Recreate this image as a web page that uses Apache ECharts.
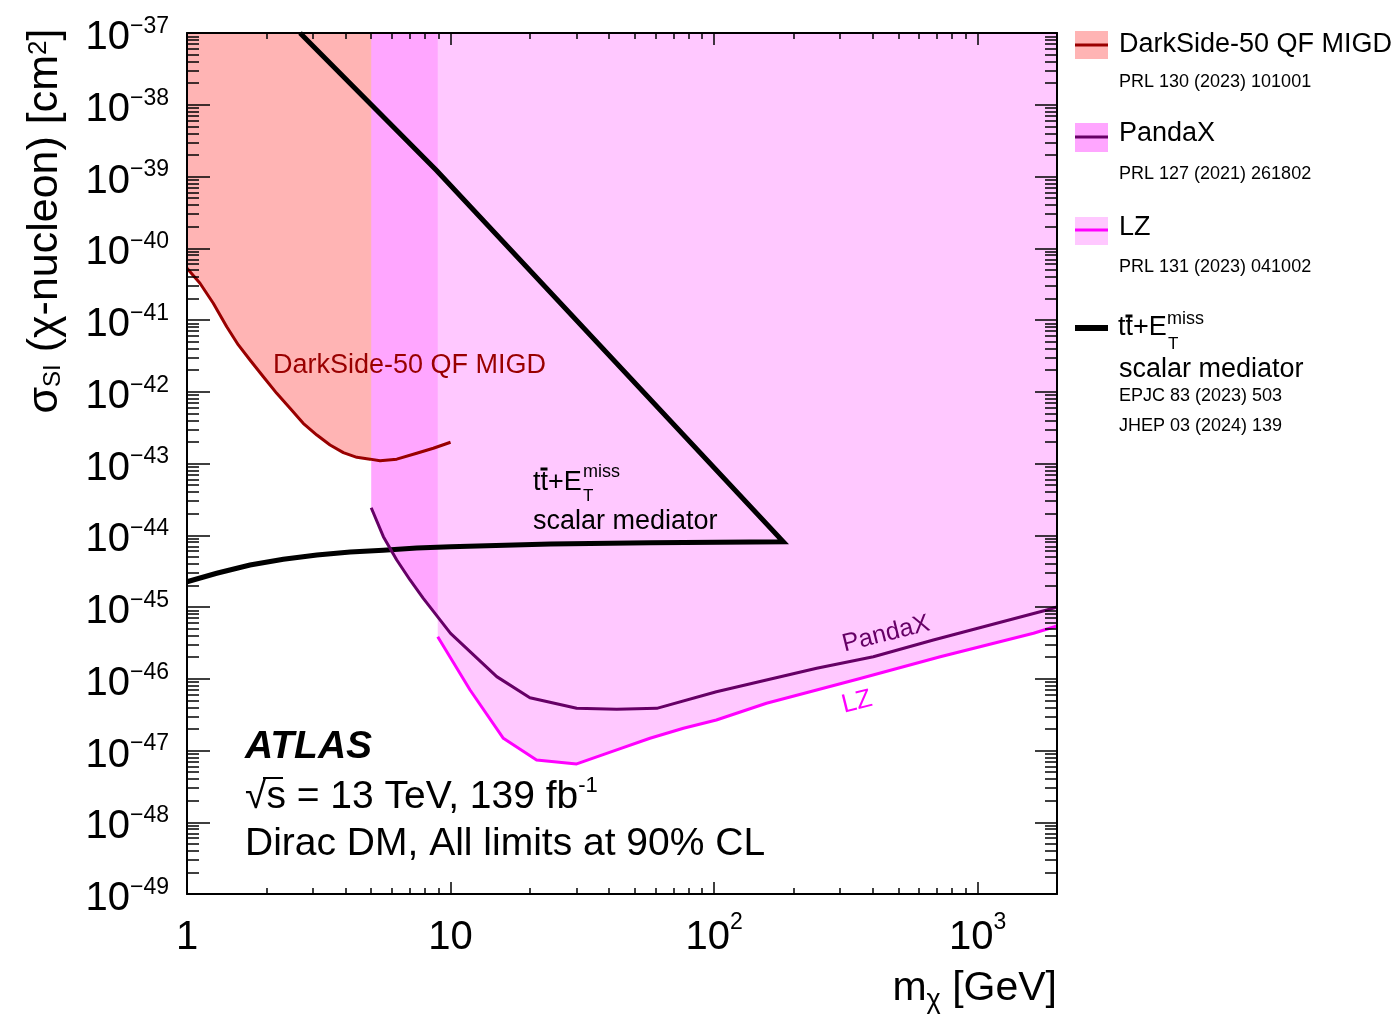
<!DOCTYPE html>
<html>
<head>
<meta charset="utf-8">
<script src="https://cdn.jsdelivr.net/npm/echarts@6/dist/echarts.min.js"></script>
<style>
html,body{margin:0;padding:0;background:#fff;}
#chart{width:1394px;height:1017px;}
</style>
</head>
<body>
<div id="chart"></div>
<script>
// ---------------- data ----------------
const darksideMass = [1.0, 1.12, 1.258, 1.415, 1.566, 1.734, 1.948, 2.19, 2.46, 2.76, 3.11, 3.49, 3.92, 4.41, 4.95, 5.40, 6.25, 7.44, 8.60, 10.0];
const darksideXsec = [5.26e-41, 3.25e-41, 1.71e-41, 8.07e-42, 4.49e-42, 2.77e-42, 1.62e-42, 9.5e-43, 5.87e-43, 3.63e-43, 2.49e-43, 1.81e-43, 1.42e-43, 1.22e-43, 1.15e-43, 1.09e-43, 1.15e-43, 1.39e-43, 1.63e-43, 1.98e-43];

const pandaxMass = [5.0, 5.56, 6.25, 7.02, 7.88, 10.0, 14.97, 20.0, 30.1, 42.7, 60.6, 102, 158, 245, 402, 679, 1052, 1830, 2000];
const pandaxXsec = [2.42e-44, 9.55e-45, 4.52e-45, 2.38e-45, 1.32e-45, 4.3e-46, 1.07e-46, 5.45e-47, 3.87e-47, 3.75e-47, 3.87e-47, 6.6e-47, 9.6e-47, 1.4e-46, 2.03e-46, 3.47e-46, 5.3e-46, 9.1e-46, 1.0e-45];

const lzMass = [8.94, 11.86, 15.86, 21.2, 30.1, 42.7, 57.1, 76.5, 102, 158, 245, 358, 721, 1629, 2000];
const lzXsec = [3.86e-46, 6.97e-47, 1.48e-47, 7.4e-48, 6.5e-48, 1.02e-47, 1.48e-47, 2.04e-47, 2.66e-47, 4.55e-47, 6.97e-47, 1.01e-46, 2.03e-46, 4.3e-46, 5.43e-46];

const ttbarMass = [1.0, 1.296, 1.734, 2.32, 3.11, 4.16, 5.56, 7.44, 10.0, 23.9, 57.2, 183, 8.87, 2.685];
const ttbarXsec = [2.25e-45, 2.95e-45, 3.85e-45, 4.62e-45, 5.3e-45, 5.85e-45, 6.2e-45, 6.64e-45, 6.9e-45, 7.55e-45, 7.87e-45, 8.1e-45, 1.2e-39, 1.0e-37];

const xRange = [1, 2000];
const yRange = [1e-49, 1e-37];
const xTickValues = [1, 10, 100, 1000];
const xTickLabels = ['1', '10', '10^2', '10^3'];
const yTickExponents = [-49, -48, -47, -46, -45, -44, -43, -42, -41, -40, -39, -38, -37];

// ---------------- helpers ----------------
const FONT = "'Liberation Sans', Arial, Helvetica, sans-serif";
const pairs = (xs, ys) => xs.map((x, i) => [x, ys[i]]);
const lx0 = Math.log10(xRange[0]), lx1 = Math.log10(xRange[1]);
const ly0 = Math.log10(yRange[0]), ly1 = Math.log10(yRange[1]);
function minorTicks(a, b) {
  const out = [];
  for (let d = Math.floor(a); d < b; d++) {
    for (let k = 2; k <= 9; k++) {
      const v = d + Math.log10(k);
      if (v >= a - 1e-9 && v <= b + 1e-9) out.push(v);
    }
  }
  return out;
}
const xMajor = xTickValues.map(v => Math.log10(v));
const xMinor = minorTicks(lx0, lx1);
const yMajor = yTickExponents.slice();
const yMinor = minorTicks(ly0, ly1);

const C_DS_FILL = '#ffb4b4', C_DS_LINE = '#990000';
const C_PX_FILL = '#ffa6ff', C_PX_LINE = '#660066';
const C_LZ_FILL = '#ffc8ff', C_LZ_LINE = '#ff00ff';

function tickAxis(position, values, len, showLine, label) {
  const isX = position === 'bottom' || position === 'top';
  return {
    type: 'value', position: position,
    min: isX ? lx0 : ly0, max: isX ? lx1 : ly1,
    z: 10,
    axisLine: { show: showLine, onZero: false, lineStyle: { color: '#000', width: 2 } },
    axisTick: { show: true, inside: true, length: len, customValues: values, lineStyle: { color: '#000', width: 1.5 } },
    axisLabel: label || { show: false },
    splitLine: { show: false }
  };
}

const xLabel = {
  show: true, customValues: xMajor, margin: 14,
  formatter: function (v) {
    const idx = xMajor.findIndex(m => Math.abs(m - v) < 1e-6);
    const parts = xTickLabels[idx].split('^');
    return '{b|' + parts[0] + '}' + (parts[1] ? '{s|' + parts[1] + '}' : '');
  },
  rich: {
    b: { fontFamily: FONT, fontSize: 40, color: '#000', lineHeight: 60, verticalAlign: 'middle' },
    s: { fontFamily: FONT, fontSize: 23, color: '#000', lineHeight: 23, padding: [0, 0, 30, 0], verticalAlign: 'middle' }
  }
};
const yLabel = {
  show: true, customValues: yMajor, margin: 18,
  formatter: function (v) {
    return '{b|10}{s|\u2212' + (-Math.round(v)) + '}';
  },
  rich: {
    b: { fontFamily: FONT, fontSize: 40, color: '#000', lineHeight: 48, padding: [10, 0, 0, 0], verticalAlign: 'middle' },
    s: { fontFamily: FONT, fontSize: 23, color: '#000', lineHeight: 23, padding: [0, 0, 13, 0], verticalAlign: 'middle' }
  }
};

function fillSeries(name, data, color, z) {
  return {
    name: name, type: 'line', xAxisIndex: 0, yAxisIndex: 0, data: data,
    showSymbol: false, symbol: 'none', silent: true, z: z, clip: true,
    lineStyle: { width: 0, opacity: 0 },
    areaStyle: { color: color, opacity: 1, origin: yRange[1] }
  };
}
function lineSeries(name, data, color, width, z, join) {
  return {
    name: name, type: 'line', xAxisIndex: 0, yAxisIndex: 0, data: data,
    showSymbol: false, symbol: 'none', silent: true, z: z, clip: true,
    lineStyle: { color: color, width: width, join: join || 'round', cap: 'butt' }
  };
}

function txt(x, y, text, size, color, extra) {
  return Object.assign({
    type: 'text', x: x, y: y, z: 100, silent: true,
    style: Object.assign({ text: text, fill: color || '#000', fontFamily: FONT, fontSize: size, align: 'left', verticalAlign: 'middle' }, (extra && extra.style) || {})
  }, extra ? { rotation: extra.rotation || 0 } : {});
}
function rect(x, y, w, h, color) {
  return { type: 'rect', z: 100, silent: true, shape: { x: x, y: y, width: w, height: h }, style: { fill: color } };
}
function seg(x1, y1, x2, y2, color, w) {
  return { type: 'line', z: 101, silent: true, shape: { x1: x1, y1: y1, x2: x2, y2: y2 }, style: { stroke: color, lineWidth: w } };
}

const graphics = [
  // axis titles
  {
    type: 'text', x: 45, y: 221, rotation: Math.PI / 2, z: 100, silent: true,
    style: {
      text: '{a|\u03c3}{sub|SI}{a| (\u03c7-nucleon) [cm}{sup|2}{a|]}',
      align: 'center', verticalAlign: 'middle',
      rich: {
        a: { fontFamily: FONT, fontSize: 43, fill: '#000', lineHeight: 50, verticalAlign: 'middle' },
        sub: { fontFamily: FONT, fontSize: 24, fill: '#000', lineHeight: 24, padding: [17, 0, 0, 0], verticalAlign: 'middle' },
        sup: { fontFamily: FONT, fontSize: 26, fill: '#000', lineHeight: 26, padding: [0, 0, 12, 0], verticalAlign: 'middle' }
      }
    }
  },
  {
    type: 'text', x: 1057, y: 989, z: 100, silent: true,
    style: {
      text: '{a|m}{sub|\u03c7}{a| [GeV]}',
      align: 'right', verticalAlign: 'middle',
      rich: {
        a: { fontFamily: FONT, fontSize: 41, fill: '#000', lineHeight: 50, verticalAlign: 'middle' },
        sub: { fontFamily: FONT, fontSize: 27, fill: '#000', lineHeight: 27, padding: [24, 0, 0, 0], verticalAlign: 'middle' }
      }
    }
  },
  // ATLAS block
  txt(245, 747, 'ATLAS', 39, '#000', { style: { fontWeight: 'bold', fontStyle: 'italic' } }),
  {
    type: 'text', x: 245, y: 797, z: 100, silent: true,
    style: {
      text: '{a|\u221as = 13 TeV, 139 fb}{s|-1}',
      align: 'left', verticalAlign: 'middle',
      rich: {
        a: { fontFamily: FONT, fontSize: 39, fill: '#000', lineHeight: 46, verticalAlign: 'middle' },
        s: { fontFamily: FONT, fontSize: 22, fill: '#000', lineHeight: 22, padding: [0, 0, 22, 0], verticalAlign: 'middle' }
      }
    }
  },
  seg(263, 778, 283, 778, '#000', 2),
  txt(245, 844, 'Dirac DM, All limits at 90% CL', 39, '#000'),
  // in-plot annotations
  txt(273, 366, 'DarkSide-50 QF MIGD', 27, C_DS_LINE),
  txt(533, 483, 'tt+E', 27, '#000'),
  rect(540.5, 467.5, 7, 3, '#000'),
  txt(583, 472, 'miss', 18, '#000'),
  txt(583, 496, 'T', 17, '#000'),
  txt(533, 522, 'scalar mediator', 27, '#000'),
  txt(886, 634, 'PandaX', 25, C_PX_LINE, { rotation: 14 * Math.PI / 180, style: { align: 'center' } }),
  txt(857, 702, 'LZ', 26, C_LZ_LINE, { rotation: 14 * Math.PI / 180, style: { align: 'center' } }),
  // legend
  rect(1075, 31, 33, 28, C_DS_FILL), seg(1075, 45, 1108, 45, C_DS_LINE, 3),
  txt(1119, 45, 'DarkSide-50 QF MIGD', 27, '#000'),
  txt(1119, 82, 'PRL 130 (2023) 101001', 18, '#000'),
  rect(1075, 123, 33, 29, C_PX_FILL), seg(1075, 137, 1108, 137, C_PX_LINE, 3),
  txt(1119, 134, 'PandaX', 27, '#000'),
  txt(1119, 174, 'PRL 127 (2021) 261802', 18, '#000'),
  rect(1075, 217, 33, 28, C_LZ_FILL), seg(1075, 230, 1108, 230, C_LZ_LINE, 3),
  txt(1119, 228, 'LZ', 27, '#000'),
  txt(1119, 267, 'PRL 131 (2023) 041002', 18, '#000'),
  seg(1075, 328, 1108, 328, '#000', 6),
  txt(1118, 328, 'tt+E', 27, '#000'),
  rect(1125.5, 314.5, 7, 3, '#000'),
  txt(1167, 319, 'miss', 18, '#000'),
  txt(1168, 344, 'T', 17, '#000'),
  txt(1119, 370, 'scalar mediator', 27, '#000'),
  txt(1119, 396, 'EPJC 83 (2023) 503', 18, '#000'),
  txt(1119, 426, 'JHEP 03 (2024) 139', 18, '#000')
];

const option = {
  animation: false,
  backgroundColor: '#ffffff',
  textStyle: { fontFamily: FONT },
  grid: { left: 187, top: 33, width: 870, height: 861 },
  xAxis: [
    { type: 'log', logBase: 10, min: xRange[0], max: xRange[1], show: false },
    tickAxis('bottom', xMajor, 12, true, xLabel),
    tickAxis('bottom', xMinor, 6, false),
    tickAxis('top', xMajor, 12, true),
    tickAxis('top', xMinor, 6, false)
  ],
  yAxis: [
    { type: 'log', logBase: 10, min: yRange[0], max: yRange[1], show: false },
    tickAxis('left', yMajor, 23, true, yLabel),
    tickAxis('left', yMinor, 12, false),
    tickAxis('right', yMajor, 22, true),
    tickAxis('right', yMinor, 12, false)
  ],
  series: [
    fillSeries('DarkSide-50 fill', pairs(darksideMass, darksideXsec), C_DS_FILL, 1),
    fillSeries('PandaX fill', pairs(pandaxMass, pandaxXsec), C_PX_FILL, 2),
    fillSeries('LZ fill', pairs(lzMass, lzXsec), C_LZ_FILL, 3),
    lineSeries('DarkSide-50 QF MIGD', pairs(darksideMass, darksideXsec), C_DS_LINE, 3, 5),
    lineSeries('ttbar+MET scalar mediator', pairs(ttbarMass, ttbarXsec), '#000', 5, 6, 'miter'),
    lineSeries('PandaX', pairs(pandaxMass, pandaxXsec), C_PX_LINE, 3, 7),
    lineSeries('LZ', pairs(lzMass, lzXsec), C_LZ_LINE, 3, 7)
  ],
  graphic: { elements: graphics }
};

const chart = echarts.init(document.getElementById('chart'), null, { renderer: 'canvas' });
chart.setOption(option);
</script>
</body>
</html>
